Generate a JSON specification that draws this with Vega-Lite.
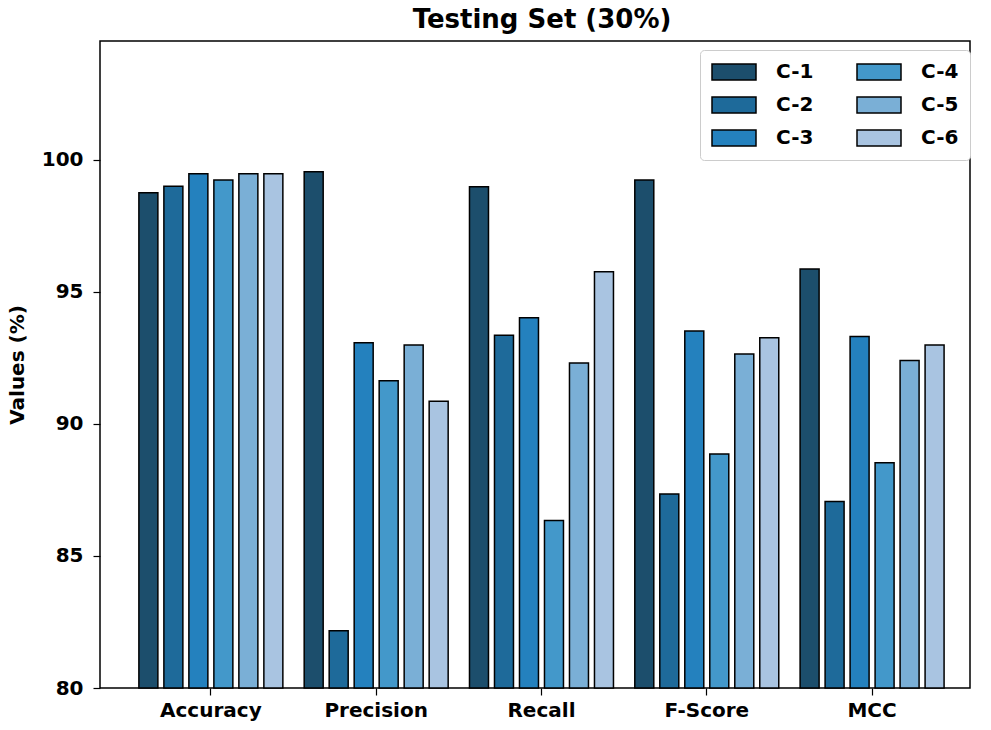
{
  "$schema": "https://vega.github.io/schema/vega-lite/v6.json",
  "width": 870,
  "height": 647,
  "autosize": {"type": "none"},
  "padding": {"left": 100, "top": 41, "right": 21, "bottom": 42},
  "background": "white",
  "title": {"text": "Testing Set (30%)", "fontSize": 26, "font": "DejaVu Sans", "fontWeight": "bold", "color": "black", "offset": 8, "anchor": "middle", "dx": 7},
  "config": {
    "view": {"stroke": "black", "strokeWidth": 1.5},
    "font": "DejaVu Sans"
  },
  "data": {
    "values": [
      {"metric": "Accuracy", "model": "C-1", "value": 98.75},
      {"metric": "Accuracy", "model": "C-2", "value": 99.0},
      {"metric": "Accuracy", "model": "C-3", "value": 99.47},
      {"metric": "Accuracy", "model": "C-4", "value": 99.24},
      {"metric": "Accuracy", "model": "C-5", "value": 99.47},
      {"metric": "Accuracy", "model": "C-6", "value": 99.47},
      {"metric": "Precision", "model": "C-1", "value": 99.55},
      {"metric": "Precision", "model": "C-2", "value": 82.17},
      {"metric": "Precision", "model": "C-3", "value": 93.07},
      {"metric": "Precision", "model": "C-4", "value": 91.63},
      {"metric": "Precision", "model": "C-5", "value": 92.99},
      {"metric": "Precision", "model": "C-6", "value": 90.86},
      {"metric": "Recall", "model": "C-1", "value": 98.98},
      {"metric": "Recall", "model": "C-2", "value": 93.36},
      {"metric": "Recall", "model": "C-3", "value": 94.02},
      {"metric": "Recall", "model": "C-4", "value": 86.34},
      {"metric": "Recall", "model": "C-5", "value": 92.31},
      {"metric": "Recall", "model": "C-6", "value": 95.76},
      {"metric": "F-Score", "model": "C-1", "value": 99.24},
      {"metric": "F-Score", "model": "C-2", "value": 87.35},
      {"metric": "F-Score", "model": "C-3", "value": 93.52},
      {"metric": "F-Score", "model": "C-4", "value": 88.86},
      {"metric": "F-Score", "model": "C-5", "value": 92.65},
      {"metric": "F-Score", "model": "C-6", "value": 93.26},
      {"metric": "MCC", "model": "C-1", "value": 95.87},
      {"metric": "MCC", "model": "C-2", "value": 87.06},
      {"metric": "MCC", "model": "C-3", "value": 93.31},
      {"metric": "MCC", "model": "C-4", "value": 88.53},
      {"metric": "MCC", "model": "C-5", "value": 92.4},
      {"metric": "MCC", "model": "C-6", "value": 92.99}
    ]
  },
  "mark": {"type": "bar", "stroke": "black", "strokeWidth": 1.5},
  "encoding": {
    "x": {
      "field": "metric",
      "type": "nominal",
      "sort": ["Accuracy", "Precision", "Recall", "F-Score", "MCC"],
      "scale": {"paddingInner": 0.129, "paddingOuter": 0.196, "align": 0.6},
      "axis": {"title": null, "labelAngle": 0, "labelFontSize": 20, "labelFont": "DejaVu Sans", "labelFontWeight": "bold", "labelColor": "black", "tickColor": "black", "tickSize": 7, "tickWidth": 1.2, "domain": false, "labelPadding": 5}
    },
    "xOffset": {
      "field": "model",
      "type": "nominal",
      "scale": {"domain": ["C-1", "C-2", "C-3", "C-4", "C-5", "C-6"], "paddingInner": 0.24, "paddingOuter": 0}
    },
    "y": {
      "field": "value",
      "type": "quantitative",
      "scale": {"domain": [80, 104.5], "zero": false, "nice": false},
      "axis": {"values": [80, 85, 90, 95, 100], "title": "Values (%)", "titleFontSize": 20, "titleFont": "DejaVu Sans", "titleFontWeight": "bold", "titleColor": "black", "titlePadding": 14, "labelFontSize": 20, "labelFont": "DejaVu Sans", "labelFontWeight": "bold", "labelColor": "black", "tickColor": "black", "tickSize": 7, "tickWidth": 1.2, "domain": false, "grid": false, "labelPadding": 10}
    },
    "y2": {"datum": 80},
    "color": {
      "field": "model",
      "type": "nominal",
      "scale": {"domain": ["C-1", "C-2", "C-3", "C-4", "C-5", "C-6"], "range": ["#1c4e6c", "#1e6a9a", "#2481be", "#4398ca", "#7aafd6", "#a9c4e1"]},
      "legend": {"orient": "none", "legendX": 600, "legendY": 9, "columns": 2, "title": null, "symbolType": "M-1,-0.8L3.4,-0.8L3.4,0.8L-1,0.8Z", "symbolSize": 400, "symbolStrokeColor": "black", "symbolStrokeWidth": 1.5, "symbolOpacity": 1, "labelFont": "DejaVu Sans", "labelFontWeight": "bold", "labelFontSize": 20, "labelColor": "black", "labelOffset": 43, "columnPadding": 40, "rowPadding": 11, "padding": 11, "strokeColor": "#cccccc", "fillColor": "white", "cornerRadius": 4}
    }
  }
}
